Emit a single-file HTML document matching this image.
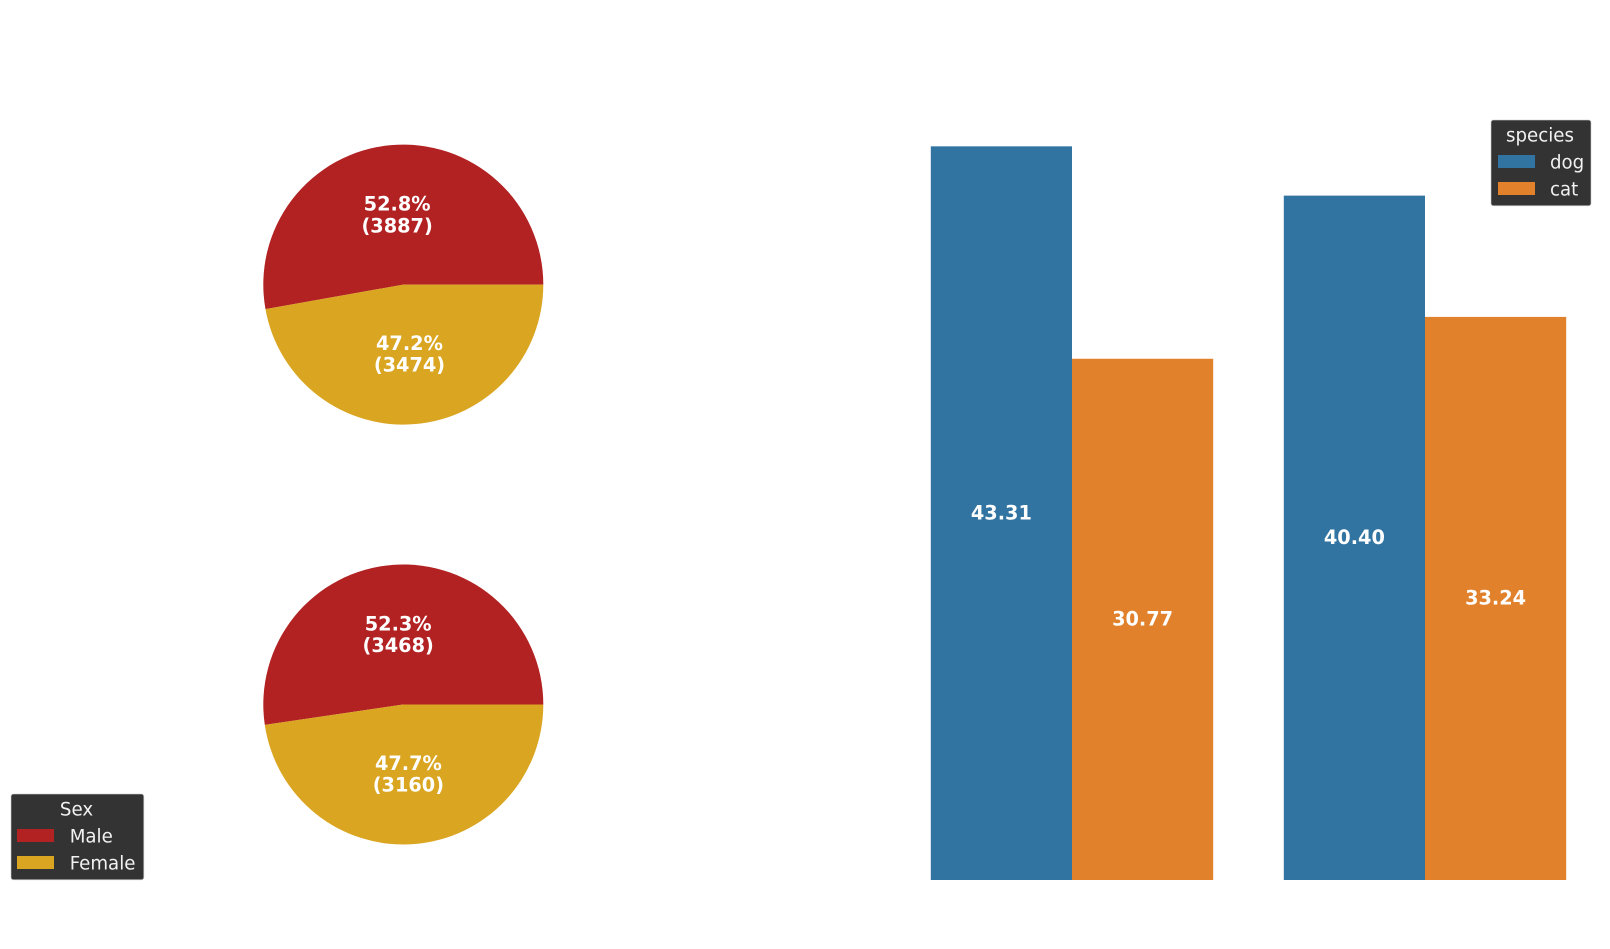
<!DOCTYPE html>
<html lang="en">
<head>
<meta charset="utf-8">
<title>Sex and species charts</title>
<style>
html,body{margin:0;padding:0;background:#fff;width:1610px;height:949px;overflow:hidden}
svg{display:block}
text{font-family:"DejaVu Sans","Liberation Sans",sans-serif}
.v{font-size:19.3px;font-weight:700;fill:#fff;text-anchor:middle}
.lg{font-size:18.2px;fill:#f2f2f2}
</style>
</head>
<body>
<svg id="chart" xmlns="http://www.w3.org/2000/svg" width="1610" height="949" viewBox="0 0 1610 949">
  <rect width="1610" height="949" fill="#ffffff"/>
  <g id="pies"></g>
  <g id="bars"></g>
  <g>
    <rect x="11" y="794" width="132.8" height="85.8" rx="2.5" fill="#333333" stroke="#cccccc" stroke-opacity="0.6" stroke-width="1"/>
    <text class="lg" x="76.5" y="815.5" text-anchor="middle">Sex</text>
    <rect x="17" y="829" width="37" height="13" fill="#b22222"/>
    <text class="lg" x="69.7" y="842.5">Male</text>
    <rect x="17" y="856" width="37" height="13" fill="#daa520"/>
    <text class="lg" x="69.7" y="869.5">Female</text>
  </g>
  <g>
    <rect x="1491" y="120" width="100" height="85.8" rx="2.5" fill="#333333" stroke="#cccccc" stroke-opacity="0.6" stroke-width="1"/>
    <text class="lg" x="1540" y="141.5" text-anchor="middle">species</text>
    <rect x="1498" y="155" width="37" height="13" fill="#3274a1"/>
    <text class="lg" x="1550" y="168.5">dog</text>
    <rect x="1498" y="182" width="37" height="13" fill="#e1812c"/>
    <text class="lg" x="1550" y="195.5">cat</text>
  </g>
</svg>
<script>
const sexCategories = ['Male', 'Female'];
const topPieCounts = [3887, 3474];
const bottomPieCounts = [3468, 3160];
const speciesNames = ['dog', 'cat'];
const barGroups = ['group-1', 'group-2'];
const dogValues = [43.31, 40.40];
const catValues = [30.77, 33.24];

const NS = 'http://www.w3.org/2000/svg';
const sexColors = ['#b22222', '#daa520'];
const speciesColors = ['#3274a1', '#e1812c'];

function make(parent, tag, props, content) {
  const el = document.createElementNS(NS, tag);
  for (const k in props) el.setAttribute(k, props[k]);
  if (content !== undefined) el.textContent = content;
  parent.appendChild(el);
  return el;
}

/* Pie geometry */
const pieRadius = 140;
const pieCx = 403.3;
const labelDistance = 0.5;
function drawPie(parent, counts, cy, prefix) {
  const total = counts.reduce((a, b) => a + b, 0);
  let start = 0;
  counts.forEach((count, i) => {
    const frac = count / total;
    const end = start + frac * 2 * Math.PI;
    const x0 = pieCx + pieRadius * Math.cos(start), y0 = cy - pieRadius * Math.sin(start);
    const x1 = pieCx + pieRadius * Math.cos(end), y1 = cy - pieRadius * Math.sin(end);
    const large = frac > 0.5 ? 1 : 0;
    const d = 'M' + pieCx + ' ' + cy + 'L' + x0 + ' ' + y0 + 'A' + pieRadius + ' ' + pieRadius + ' 0 ' + large + ' 0 ' + x1 + ' ' + y1 + 'Z';
    const wedge = make(parent, 'path', { d: d, fill: sexColors[i] });
    
    

    const mid = (start + end) / 2;
    const tx = pieCx + labelDistance * pieRadius * Math.cos(mid);
    const ty = cy - labelDistance * pieRadius * Math.sin(mid);
    const pct = make(parent, 'text', { class: 'v', x: tx, y: ty - 4.2 }, (frac * 100).toFixed(1) + '%');
    
    
    const cnt = make(parent, 'text', { class: 'v', x: tx, y: ty + 17.4 }, '(' + count + ')');
    
    
    start = end;
  });
}
const piesGroup = document.getElementById('pies');
drawPie(piesGroup, topPieCounts, 284.6, 'top-pie');
drawPie(piesGroup, bottomPieCounts, 704.5, 'bottom-pie');

/* Bar axes */
const baselineY = 880;
const pxPerUnit = 16.94;
const groupStart = 1072;
const groupStep = 353;
const barWidth = 141.2;
function yScale(v) { return baselineY - v * pxPerUnit; }
function xScale(groupIndex, seriesIndex) { return groupStart + groupStep * groupIndex + (seriesIndex - 1) * barWidth; }

const barsGroup = document.getElementById('bars');
[dogValues, catValues].forEach((series, s) => {
  series.forEach((value, g) => {
    const x = xScale(g, s);
    const y = yScale(value);
    const bar = make(barsGroup, 'rect', { x: x, y: y, width: barWidth, height: baselineY - y, fill: speciesColors[s] });
    
    
    const label = make(barsGroup, 'text', { class: 'v', x: x + barWidth / 2, y: (y + baselineY) / 2 + 6.2 }, value.toFixed(2));
    
    
  });
});
</script>
</body>
</html>
